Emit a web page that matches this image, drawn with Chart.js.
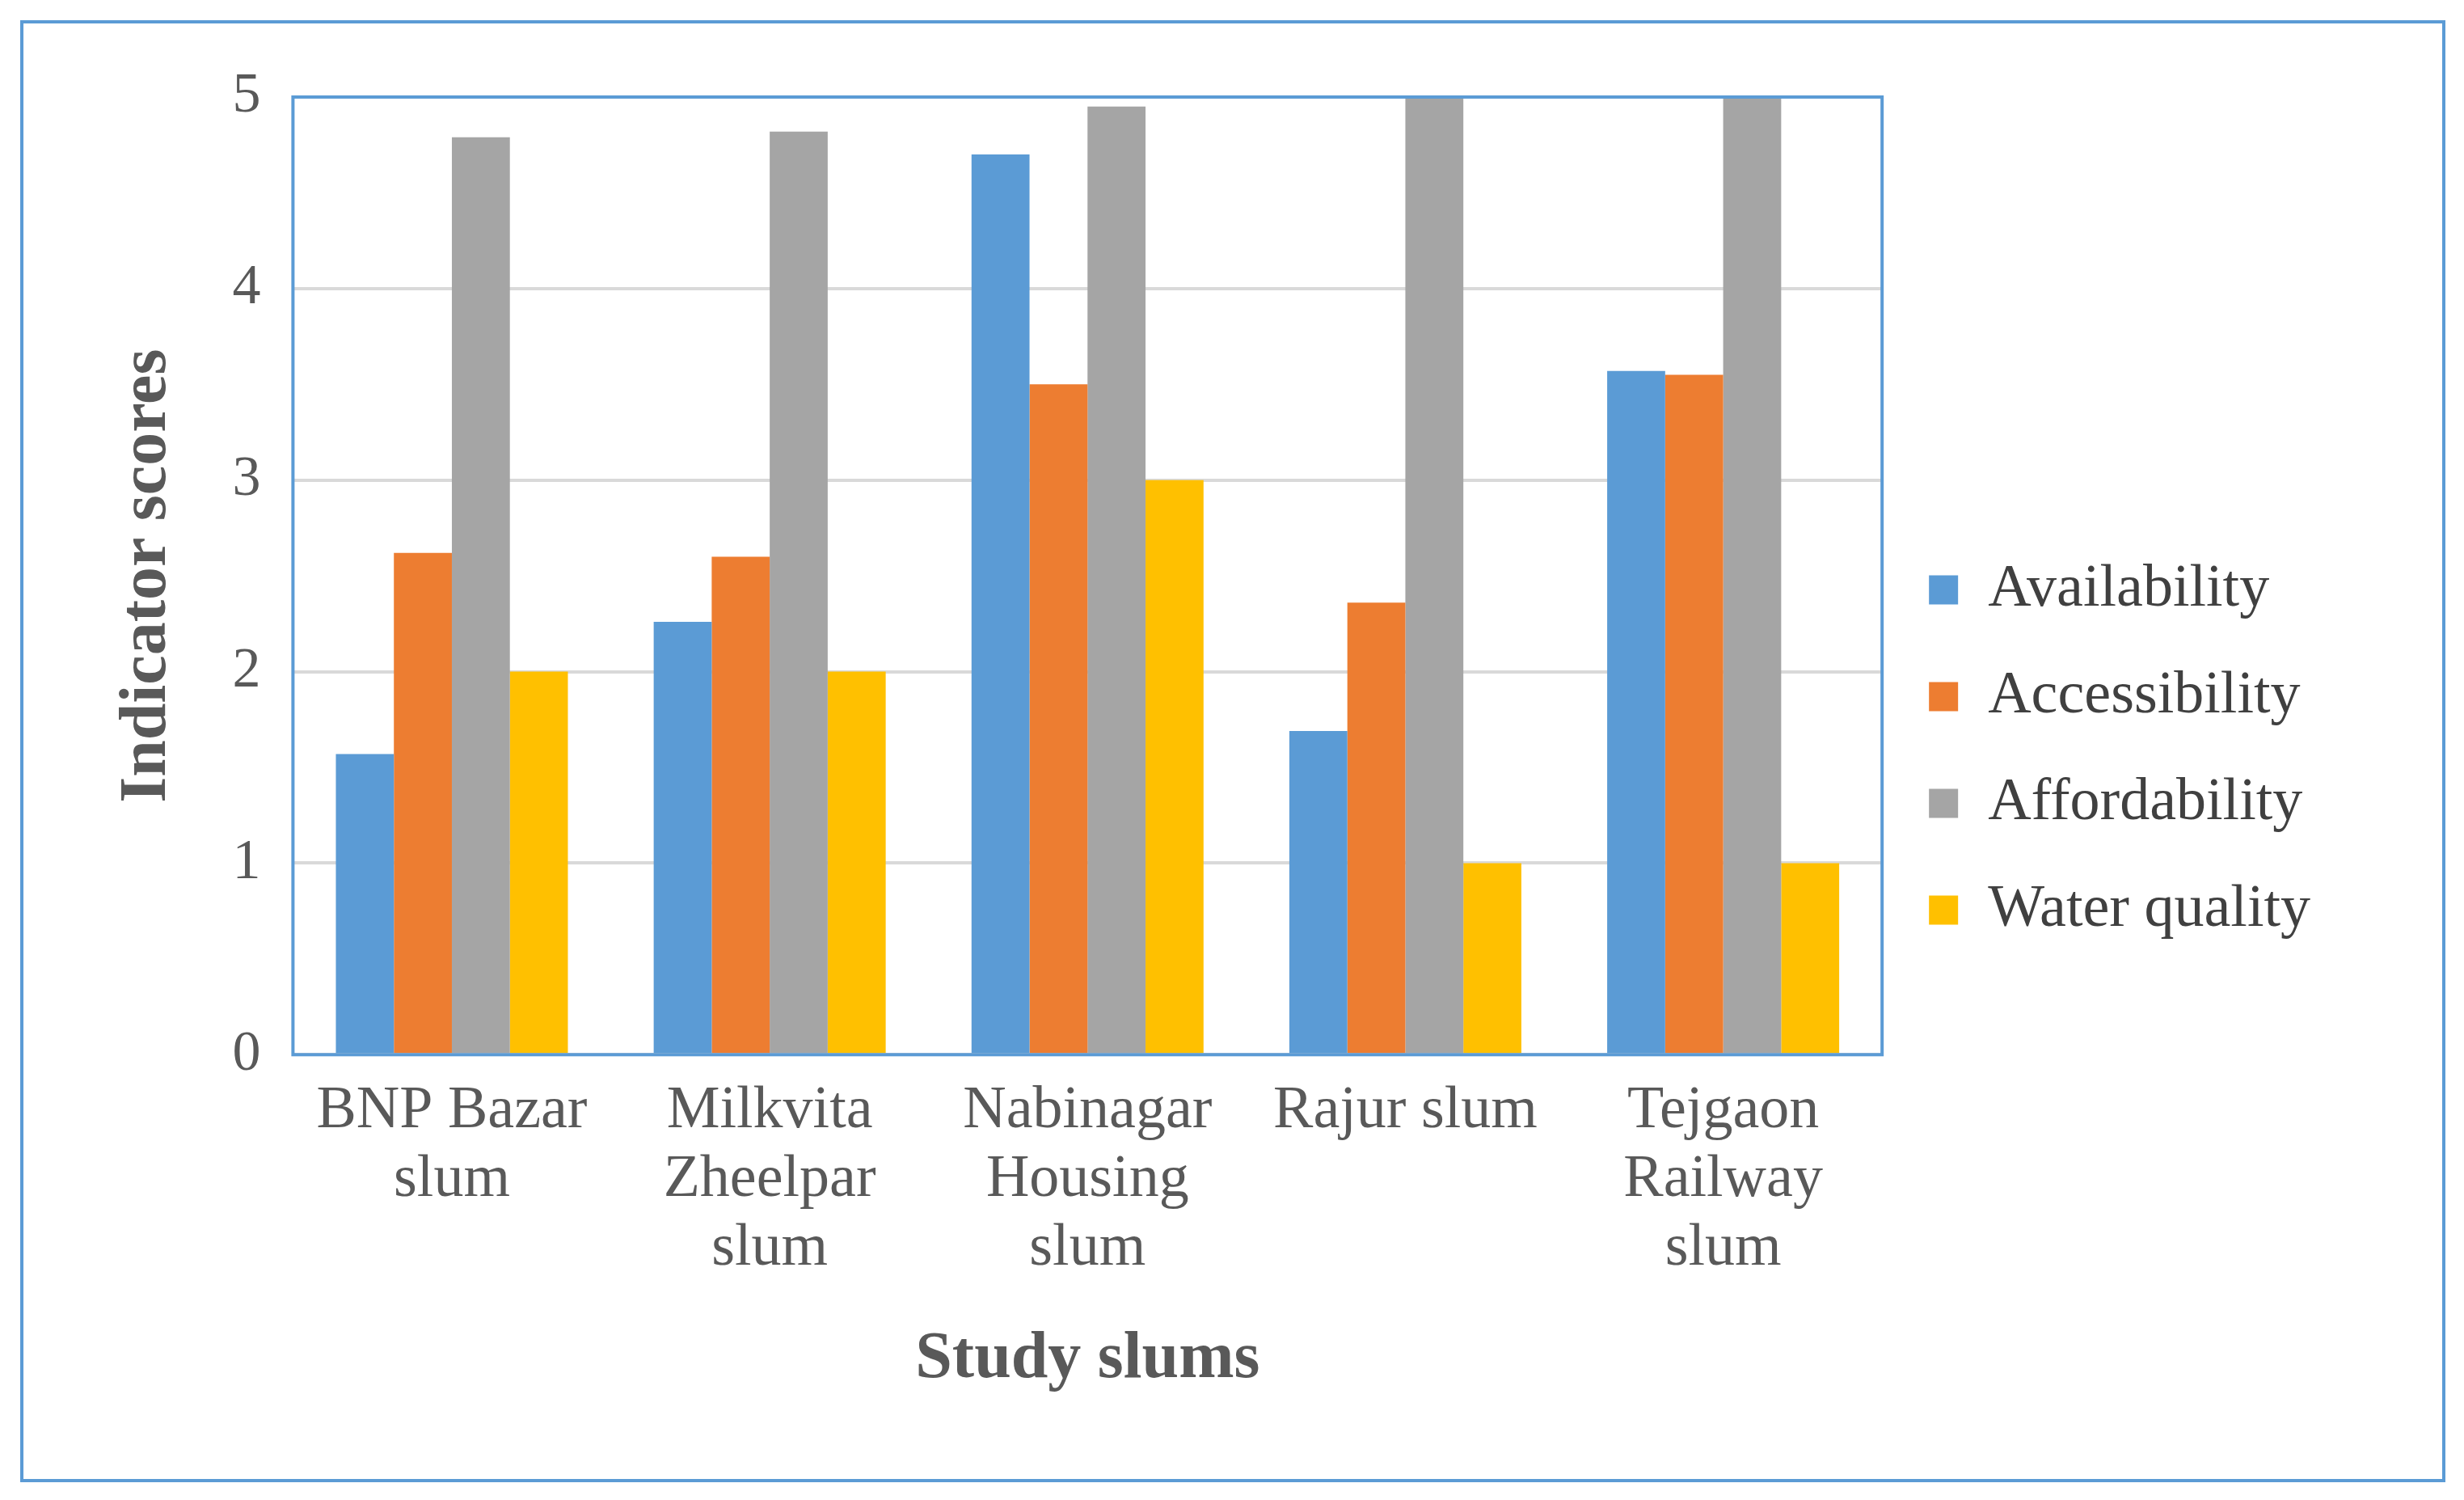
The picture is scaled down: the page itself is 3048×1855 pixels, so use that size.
<!DOCTYPE html>
<html>
<head>
<meta charset="utf-8">
<script src="https://cdn.jsdelivr.net/npm/chart.js@4/dist/chart.umd.min.js"></script>
<style>
  body { margin: 0; background: #fff; }
  #frame { position: absolute; left: 25px; top: 25px; width: 2992px; height: 1800px; border: 4px solid #5B9BD5; }
  canvas { position: absolute; left: 0; top: 0; }
</style>
</head>
<body>
<div id="frame"></div>
<canvas id="chart" width="3048" height="1855"></canvas>
<script>
const slums = [
    ["BNP Bazar", "slum"],
    ["Milkvita", "Zheelpar", "slum"],
    ["Nabinagar", "Housing", "slum"],
    ["Rajur slum"],
    ["Tejgaon", "Railway", "slum"]
]
const availability = [1.57, 2.26, 4.70, 1.69, 3.57]
const accessibility = [2.62, 2.60, 3.50, 2.36, 3.55]
const affordability = [4.79, 4.82, 4.95, 5.00, 5.00]
const waterQuality = [2.00, 2.00, 3.00, 1.00, 1.00]

const seriesNames = ["Availability", "Accessibility", "Affordability", "Water quality"]
const seriesColors = ["#5B9BD5", "#ED7D31", "#A5A5A5", "#FFC000"]

const font = "'Liberation Serif', 'Times New Roman', serif"

const datasets = [availability, accessibility, affordability, waterQuality].map((vals, i) => ({
    label: seriesNames[i],
    data: vals,
    backgroundColor: seriesColors[i],
    categoryPercentage: 0.73,
    barPercentage: 1.0
}))

// blue box round the plot area
const plotBorder = {
    id: "plotBorder",
    afterInit(chart) {
        // leave a wider gap between plot and legend
        const lg = chart.legend
        const fit = lg.fit.bind(lg)
        lg.fit = function () { fit(); this.width += 70 }
    },
    afterDraw(chart) {
        const a = chart.chartArea
        const ctx = chart.ctx
        ctx.save()
        ctx.strokeStyle = "#5B9BD5"
        ctx.lineWidth = 4
        ctx.strokeRect(a.left, a.top, a.right - a.left, a.bottom - a.top)
        ctx.restore()
    }
}

new Chart(document.getElementById("chart"), {
    type: "bar",
    data: { labels: slums, datasets: datasets },
    plugins: [plotBorder],
    options: {
        responsive: false,
        animation: false,
        layout: { padding: { left: 130, right: 110, top: 120, bottom: 120 } },
        plugins: {
            legend: {
                position: "right",
                labels: {
                    font: { family: font, size: 74 },
                    color: "#404040",
                    boxWidth: 36,
                    boxHeight: 36,
                    padding: 58
                }
            },
            tooltip: { enabled: false }
        },
        scales: {
            x: {
                grid: { display: false },
                border: { display: false },
                ticks: { font: { family: font, size: 74, lineHeight: 1.15 }, color: "#595959", maxRotation: 0, autoSkip: false, padding: 20 },
                title: { display: true, text: "Study slums", font: { family: font, size: 82, weight: "bold" }, color: "#595959", padding: { top: 25 } }
            },
            y: {
                min: 0,
                max: 5,
                ticks: { stepSize: 1, font: { family: font, size: 70 }, color: "#595959", padding: 40 },
                grid: { color: "#D9D9D9", lineWidth: 4, drawTicks: false },
                border: { display: false },
                title: { display: true, text: "Indicator scores", font: { family: font, size: 82, weight: "bold" }, color: "#595959", padding: { bottom: 15 } }
            }
        }
    }
})
</script>
</body>
</html>
